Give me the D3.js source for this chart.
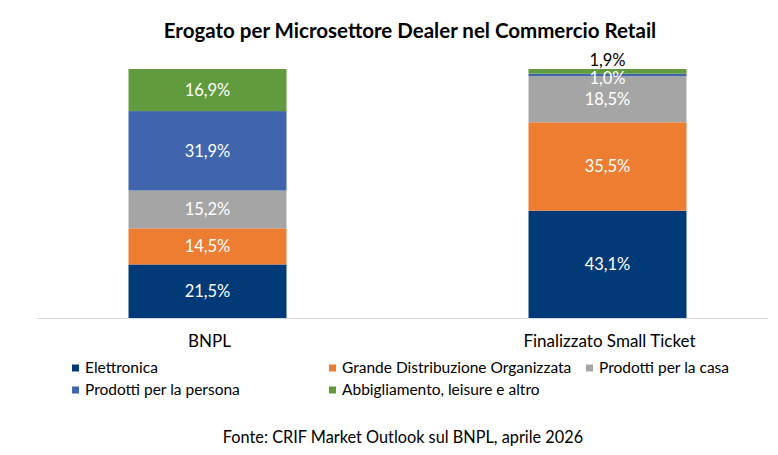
<!DOCTYPE html>
<html>
<head>
<meta charset="utf-8">
<script src="https://cdn.jsdelivr.net/npm/d3@7/dist/d3.min.js"></script>
<style>
  body { margin: 0; background: #fff; }
  text { font-family: Lato, "Open Sans", sans-serif; }
</style>
</head>
<body>
<svg id="chart" width="778" height="455"></svg>
<script>
const categories = ["BNPL", "Finalizzato Small Ticket"];
const seriesNames = [
  "Elettronica",
  "Grande Distribuzione Organizzata",
  "Prodotti per la casa",
  "Prodotti per la persona",
  "Abbigliamento, leisure e altro"
];
const elettronica = [21.5, 43.1];
const gdo = [14.5, 35.5];
const casa = [15.2, 18.5];
const persona = [31.9, 1.0];
const abbigliamento = [16.9, 1.9];
const colors = ["#013A76", "#ED7D31", "#A5A5A5", "#4065AD", "#629B3E"];

const svg = d3.select("#chart");

const rows = categories.map((c, i) => ({
  cat: c,
  [seriesNames[0]]: elettronica[i],
  [seriesNames[1]]: gdo[i],
  [seriesNames[2]]: casa[i],
  [seriesNames[3]]: persona[i],
  [seriesNames[4]]: abbigliamento[i]
}));
const stack = d3.stack().keys(seriesNames)(rows);

const x = d3.scalePoint().domain(categories).range([207.5, 607.5]);
const barW = 158;
const y = d3.scaleLinear().domain([0, 100]).range([318, 69]);
const color = d3.scaleOrdinal().domain(seriesNames).range(colors);

// title
svg.append("text")
  .attr("x", 410).attr("y", 38)
  .attr("text-anchor", "middle")
  .attr("font-size", 20.5).attr("font-weight", "bold")
  .attr("fill", "#000")
  .text("Erogato per Microsettore Dealer nel Commercio Retail");

// bars
const groups = svg.append("g").selectAll("g")
  .data(stack)
  .join("g")
  .attr("fill", d => color(d.key));

groups.selectAll("rect")
  .data(d => d)
  .join("rect")
  .attr("x", d => x(d.data.cat) - barW / 2)
  .attr("width", barW)
  .attr("y", d => y(d[1]))
  .attr("height", d => y(d[0]) - y(d[1]));

// axis line
svg.append("line")
  .attr("x1", 37).attr("x2", 768)
  .attr("y1", 318.5).attr("y2", 318.5)
  .attr("stroke", "#D9D9D9").attr("stroke-width", 1);

// value labels
const fmt = v => d3.format(".1f")(v).replace(".", ",") + "%";
const labels = [];
stack.forEach((s, si) => s.forEach(d => {
  labels.push({ s: si, cat: d.data.cat, v: d[1] - d[0], y0: d[0], y1: d[1] });
}));
labels.forEach(l => {
  let ly = y((l.y0 + l.y1) / 2), fill = "#fff";
  const h = y(l.y0) - y(l.y1);
  if (h < 10) {
    // thin slices: top one goes above the bar, the other just below its slice
    if (l.s === seriesNames.length - 1) { ly = y(l.y1) - 9; fill = "#000"; }
    else ly = y(l.y0) + 2;
  }
  l.ly = ly; l.fill = fill;
});
svg.append("g").selectAll("text")
  .data(labels)
  .join("text")
  .attr("x", d => x(d.cat))
  .attr("y", d => d.ly)
  .attr("dy", "0.35em")
  .attr("text-anchor", "middle")
  .attr("font-size", 16.5)
  .attr("fill", d => d.fill)
  .text(d => fmt(d.v));

// category labels
svg.append("g").selectAll("text")
  .data(categories)
  .join("text")
  .attr("x", d => x(d) + 2)
  .attr("y", 341)
  .attr("dy", "0.35em")
  .attr("text-anchor", "middle")
  .attr("font-size", 17)
  .attr("fill", "#000")
  .text(d => d);

// legend
const legPos = [[72, 368], [329, 368], [586, 368], [72, 390], [329, 390]];
const leg = svg.append("g").selectAll("g")
  .data(seriesNames)
  .join("g")
  .attr("transform", (d, i) => `translate(${legPos[i][0]},${legPos[i][1]})`);
leg.append("rect")
  .attr("x", 0).attr("y", -3.5).attr("width", 7).attr("height", 7)
  .attr("fill", d => color(d));
leg.append("text")
  .attr("x", 13).attr("y", 0).attr("dy", "0.35em")
  .attr("font-size", 15.5).attr("fill", "#000")
  .text(d => d);

// source
svg.append("text")
  .attr("x", 403).attr("y", 437).attr("dy", "0.35em")
  .attr("text-anchor", "middle")
  .attr("font-size", 16.3).attr("fill", "#000")
  .text("Fonte: CRIF Market Outlook sul BNPL, aprile 2026");
</script>
</body>
</html>
